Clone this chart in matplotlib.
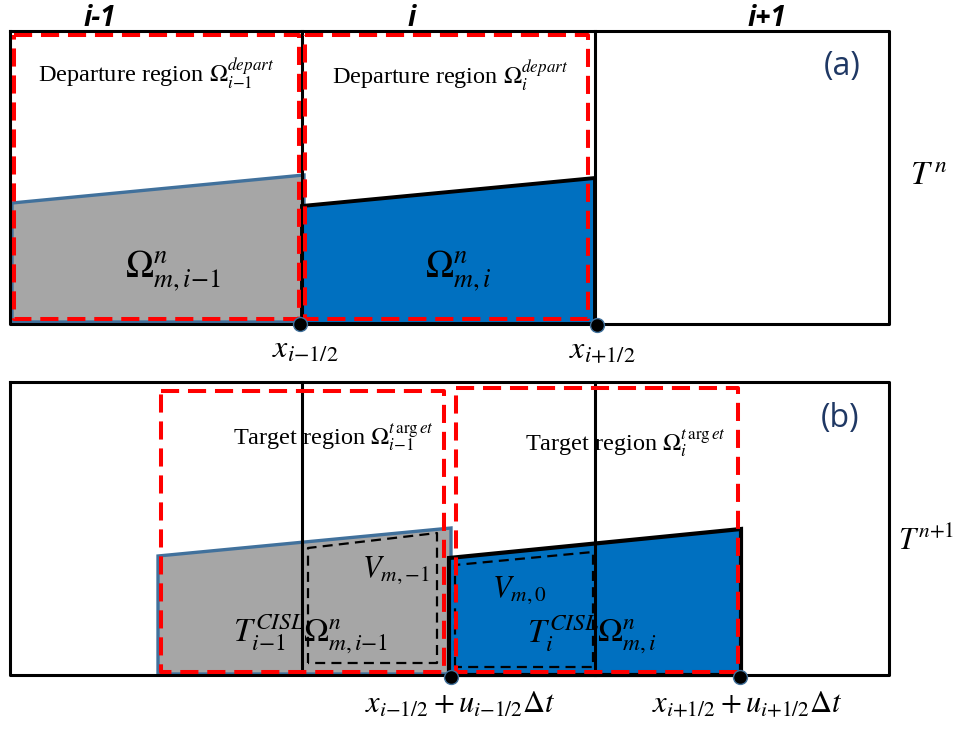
# Sketch of the CISL remapping: departure cells at T^n and target cells at T^(n+1)

import matplotlib.pyplot as plt
from matplotlib.patches import Polygon

plt.rcParams['mathtext.fontset'] = 'stix'

# cell faces (pixel x) and panel top / bottom (pixel y)
cell_edges = [10, 302, 595, 889]
panel_a = [31, 324]
panel_b = [382, 675]
col_labels = ['i-1', 'i', 'i+1']
col_label_x = [100, 412, 767]

# mass polygons: x extent and top height at left / right end
a_gray_x, a_gray_top = [12, 304], [203, 175]
a_blue_x, a_blue_top = [302, 595], [206, 178]
b_gray_x, b_gray_top = [158, 451], [556, 528]
b_blue_x, b_blue_top = [449, 741], [558, 529]

# departure / target regions (x0, x1, y0, y1)
depart_boxes = [[14, 299, 35, 319], [305, 588, 35, 319]]
target_boxes = [[161, 444, 391, 672], [456, 738, 388, 672]]

# V boxes: x extent, top at left / right, bottom
v_boxes = [([308, 437], [548, 533], 663), ([455, 593], [565, 552], 667)]

# face points
dots_a = [(300, 324), (597, 325)]
dots_b = [(451, 677), (740, 677)]

GRAY = '#a6a6a6'
BLUE = '#0070c0'
EDGE = '#41719c'
RED = '#ff0000'


def mass_poly(ax, xs, tops, bottom, face, edge, lw):
    pts = [(xs[0], bottom), (xs[0], tops[0]), (xs[1], tops[1]), (xs[1], bottom)]
    ax.add_patch(Polygon(pts, closed=True, facecolor=face, edgecolor=edge,
                         lw=lw, joinstyle='miter', zorder=2))


def panel(ax, y0, y1):
    ax.plot([cell_edges[0], cell_edges[-1], cell_edges[-1], cell_edges[0], cell_edges[0]],
            [y0, y0, y1, y1, y0], color='black', lw=2.2, zorder=3)
    for x in cell_edges[1:-1]:
        ax.plot([x, x], [y0, y1], color='black', lw=2.2, zorder=3)


def red_box(ax, b):
    x0, x1, y0, y1 = b
    ax.plot([x0, x1, x1, x0, x0], [y0, y0, y1, y1, y0], color=RED, lw=2.9,
            dashes=(4.5, 2.2), zorder=5)


fig = plt.figure(figsize=(9.56, 7.3), dpi=100)
ax = fig.add_axes([0, 0, 1, 1])
ax.set_xlim(0, 956)
ax.set_ylim(730, 0)
ax.axis('off')

# ---- panel (a)
mass_poly(ax, a_gray_x, a_gray_top, panel_a[1] - 2, GRAY, EDGE, 2.4)
mass_poly(ax, a_blue_x, a_blue_top, panel_a[1], BLUE, 'black', 2.8)
panel(ax, *panel_a)
for b in depart_boxes:
    red_box(ax, b)

# ---- panel (b)
mass_poly(ax, b_gray_x, b_gray_top, panel_b[1] - 1, GRAY, EDGE, 2.4)
mass_poly(ax, b_blue_x, b_blue_top, panel_b[1], BLUE, 'black', 3.0)
panel(ax, *panel_b)
for xs, tops, bot in v_boxes:
    ax.plot([xs[0], xs[0], xs[1], xs[1], xs[0]], [bot, tops[0], tops[1], bot, bot],
            color='black', lw=1.6, dashes=(4.5, 2.8), zorder=4)
for b in target_boxes:
    red_box(ax, b)

for x, y in dots_a + dots_b:
    ax.plot(x, y, 'o', ms=10, mfc='black', mec=EDGE, mew=1.0, zorder=6)

# ---- labels
for x, lab in zip(col_label_x, col_labels):
    ax.text(x, 26, lab, ha='center', va='baseline', fontsize=20,
            fontweight='bold', fontstyle='italic', family=['Open Sans', 'DejaVu Sans'])

serif = ['Liberation Serif', 'DejaVu Serif']
ax.text(38, 82, r'Departure region $\Omega_{i{-}1}^{depart}$', fontsize=17.5, family=serif)
ax.text(332, 84, r'Departure region $\Omega_{i}^{depart}$', fontsize=17.5, family=serif)
ax.text(233, 444, r'Target region $\Omega_{i{-}1}^{t\,\mathrm{arg}\,et}$', fontsize=17.5, family=serif)
ax.text(525, 450, r'Target region $\Omega_{i}^{t\,\mathrm{arg}\,et}$', fontsize=17.5, family=serif)

ax.text(125, 277, r'$\Omega_{m,i{-}1}^{n}$', fontsize=27)
ax.text(425, 277, r'$\Omega_{m,i}^{n}$', fontsize=27)
ax.text(910, 185, r'$T^{\,n}$', fontsize=24)
ax.text(898, 550, r'$T^{n{+}1}$', fontsize=22)

ax.text(272, 358, r'$x_{i{-}1/2}$', fontsize=23)
ax.text(569, 358, r'$x_{i{+}1/2}$', fontsize=23)
ax.text(365, 713, r'$x_{i{-}1/2}+u_{i{-}1/2}\Delta t$', fontsize=22)
ax.text(652, 713, r'$x_{i{+}1/2}+u_{i{+}1/2}\Delta t$', fontsize=22)

ax.text(362, 577, r'$V_{m,{-}1}$', fontsize=22, zorder=7)
ax.text(492, 597, r'$V_{m,0}$', fontsize=22, zorder=7)
ax.text(233, 642, r'$T_{i{-}1}^{CISL}$', fontsize=24, zorder=7)
ax.text(303, 642, r'$\Omega_{m,i{-}1}^{n}$', fontsize=24, zorder=7)
ax.text(527, 643, r'$T_{i}^{CISL}$', fontsize=24, zorder=7)
ax.text(597, 642, r'$\Omega_{m,i}^{n}$', fontsize=24, zorder=7)

ax.text(824, 66, '(a)', fontsize=23, color='#1f3864', va='center',
        family=['Open Sans', 'DejaVu Sans'])
ax.text(821, 418, '(b)', fontsize=23, color='#1f3864', va='center',
        family=['Open Sans', 'DejaVu Sans'])

fig.savefig('out.png', dpi=100)
